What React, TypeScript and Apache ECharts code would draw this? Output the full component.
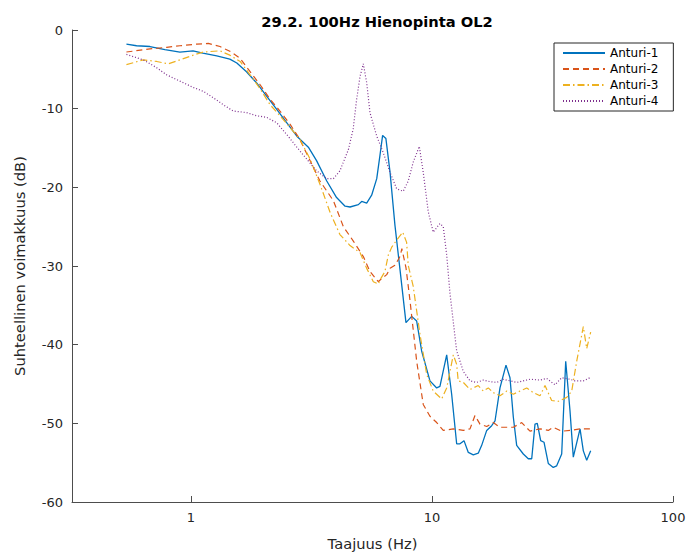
import React, { useEffect, useRef } from "react";
import * as echarts from "echarts";

const TITLE = "29.2. 100Hz Hienopinta OL2";
const X_NAME = "Taajuus (Hz)";
const Y_NAME = "Suhteellinen voimakkuus (dB)";
const SERIES_NAMES = ["Anturi-1", "Anturi-2", "Anturi-3", "Anturi-4"];
const X_TICKS = [1, 10, 100];
const X_MIN_HZ = 0.321;
const X_MAX_HZ = 100;
const Y_MIN = -60;
const Y_MAX = 0;
const Y_STEP = 10;

// [frequency (Hz), level (dB)]
const anturi1: [number, number][] = [
  [0.54, -1.8], [0.595, -2.0], [0.676, -2.1], [0.78, -2.5], [0.9, -2.8], [1.02, -2.65],
  [1.12, -2.95], [1.28, -3.3], [1.45, -3.7], [1.55, -4.2], [1.7, -5.3], [1.87, -6.7],
  [2.06, -8.4], [2.27, -10.1], [2.5, -11.8], [2.75, -13.5], [3.07, -14.9], [3.32, -16.6],
  [3.66, -19.2], [4.02, -21.3], [4.36, -22.4], [4.57, -22.5], [4.95, -22.2], [5.11, -21.8],
  [5.36, -22.0], [5.62, -21.0], [5.9, -18.9], [6.08, -16.0], [6.24, -13.4], [6.44, -13.8],
  [6.7, -18.1], [7.02, -24.8], [7.37, -30.5], [7.8, -37.2], [8.24, -36.4], [8.64, -37.0],
  [9.06, -40.8], [9.81, -44.6], [10.46, -45.5], [10.79, -45.3], [11.51, -41.3], [12.07, -46.3],
  [12.66, -52.6], [13.07, -52.6], [13.58, -52.2], [14.15, -53.7], [14.84, -54.0], [15.56, -53.8],
  [16.08, -52.8], [16.87, -50.9], [17.69, -50.3], [18.26, -49.7], [19.15, -45.5], [20.28, -42.6],
  [21.07, -44.2], [21.75, -49.2], [22.46, -52.8], [23.93, -53.9], [25.1, -54.5], [25.93, -54.5],
  [26.76, -50.1], [27.35, -50.0], [28.25, -52.2], [29.16, -52.4], [30.38, -55.1], [31.86, -55.6],
  [32.92, -55.4], [34.53, -53.9], [35.88, -42.1], [37.38, -48.4], [38.58, -54.3], [41.14, -50.7],
  [42.46, -53.5], [43.85, -54.7], [45.55, -53.5],
];

const anturi2: [number, number][] = [
  [0.54, -2.8], [0.676, -2.4], [0.793, -2.2], [0.9, -2.0], [1.056, -1.8], [1.18, -1.7],
  [1.32, -2.1], [1.45, -2.7], [1.6, -3.6], [1.76, -5.3], [1.93, -6.9], [2.13, -8.8],
  [2.34, -10.3], [2.58, -12.0], [2.83, -13.9], [3.12, -16.6], [3.43, -19.2], [3.9, -21.7],
  [4.29, -25.0], [4.71, -26.8], [5.19, -28.8], [5.53, -30.7], [5.99, -32.0], [6.08, -31.8],
  [6.49, -31.1], [6.7, -30.3], [7.02, -29.9], [7.37, -28.8], [7.5, -27.8], [7.8, -30.2],
  [8.1, -34.3], [8.64, -42.1], [9.2, -47.6], [9.81, -49.1], [10.46, -49.9], [11.14, -50.9],
  [12.26, -50.7], [13.49, -50.9], [14.38, -50.7], [15.08, -49.0], [15.82, -50.1], [16.87, -50.4],
  [17.96, -49.9], [19.15, -50.5], [20.42, -50.5], [21.75, -50.5], [23.56, -49.9], [25.51, -51.0],
  [28.06, -50.7], [30.38, -50.9], [31.86, -50.5], [34.53, -51.0], [37.38, -50.9], [41.14, -50.7],
  [45.24, -50.7],
];

const anturi3: [number, number][] = [
  [0.54, -4.4], [0.634, -3.8], [0.721, -4.0], [0.805, -4.3], [0.9, -3.8], [1.022, -3.2],
  [1.125, -2.8], [1.32, -2.65], [1.45, -3.2], [1.6, -4.0], [1.76, -5.7], [1.93, -7.4],
  [2.13, -9.5], [2.34, -10.9], [2.58, -12.4], [2.83, -13.9], [3.12, -16.4], [3.43, -19.6],
  [3.78, -23.2], [4.15, -26.0], [4.57, -27.4], [5.03, -28.3], [5.36, -30.3], [5.71, -32.0],
  [5.99, -32.3], [6.08, -31.8], [6.38, -30.7], [6.59, -28.6], [6.81, -27.6], [7.14, -26.7],
  [7.56, -25.7], [7.85, -27.0], [7.97, -29.9], [8.36, -32.6], [8.92, -38.7], [9.51, -43.8],
  [10.12, -45.9], [10.97, -46.9], [11.51, -45.5], [12.26, -41.3], [12.66, -42.5], [12.85, -44.6],
  [13.49, -44.8], [14.38, -45.7], [15.56, -45.2], [16.33, -45.9], [17.13, -45.5], [17.96, -46.1],
  [19.15, -46.5], [20.42, -45.9], [21.75, -46.3], [23.18, -45.9], [24.72, -45.5], [26.33, -46.1],
  [28.06, -46.5], [29.44, -45.2], [31.38, -47.1], [33.43, -47.2], [36.23, -46.7], [38.0, -45.9],
  [39.86, -42.1], [42.46, -37.7], [43.85, -40.5], [45.55, -38.4],
];

const anturi4: [number, number][] = [
  [0.54, -3.1], [0.634, -3.8], [0.721, -4.8], [0.793, -5.7], [0.9, -6.5], [1.022, -7.3],
  [1.125, -7.8], [1.237, -8.6], [1.361, -9.5], [1.498, -10.3], [1.7, -10.5], [1.87, -10.9],
  [2.06, -11.1], [2.27, -11.8], [2.5, -13.3], [2.75, -14.9], [3.02, -16.4], [3.32, -17.9],
  [3.66, -18.9], [3.9, -18.9], [4.15, -17.9], [4.5, -15.2], [4.71, -12.6], [4.87, -8.8],
  [5.03, -5.9], [5.19, -4.3], [5.36, -6.7], [5.53, -10.5], [5.9, -13.5], [6.28, -15.6],
  [6.7, -18.1], [7.14, -20.2], [7.6, -20.5], [7.97, -19.2], [8.36, -16.8], [8.86, -14.8],
  [9.2, -18.1], [9.65, -23.1], [10.12, -25.7], [10.79, -24.6], [11.14, -25.0], [11.51, -28.6],
  [11.88, -33.5], [12.66, -40.8], [13.49, -43.4], [14.38, -44.6], [15.33, -44.8], [16.33, -44.5],
  [17.41, -44.7], [18.56, -44.8], [19.76, -44.4], [21.07, -44.6], [22.46, -44.8], [23.93, -44.6],
  [25.51, -44.4], [28.06, -44.5], [29.92, -44.3], [32.39, -45.1], [34.53, -44.2], [37.38, -44.4],
  [39.21, -44.6], [42.46, -44.6], [45.24, -44.2],
];

const SERIES_DATA = [anturi1, anturi2, anturi3, anturi4];
const COLORS = ["#0072BD", "#D95319", "#EDB120", "#7E2F8E"];
const DASHES: any[] = ["solid", [6, 4], [7, 3, 1.5, 3], [1, 2]];
const WIDTHS = [1.3, 1.2, 1.2, 1.2];

const FONT = "DejaVu Sans, Noto Sans, sans-serif";
const AXIS_COLOR = "#4d4d4d";
const TEXT_COLOR = "#262626";

export default function App() {
  const ref = useRef<HTMLDivElement>(null);
  useEffect(() => {
    document.body.style.margin = "0";
    if (!ref.current) return;
    const chart = echarts.init(ref.current, null, { renderer: "svg" });
    const lg = (v: number) => Math.log10(v);
    const xTickVals = X_TICKS.map(lg);
    chart.setOption({
      animation: false,
      backgroundColor: "#ffffff",
      textStyle: { fontFamily: FONT },
      title: {
        text: TITLE,
        left: 372,
        textAlign: "center",
        top: 9,
        textStyle: { fontFamily: FONT, fontSize: 14.7, fontWeight: "bold", color: "#000" },
      },
      grid: { left: 72, right: 16, top: 30, bottom: 51 },
      legend: {
        orient: "vertical",
        left: 554,
        top: 43,
        data: SERIES_NAMES,
        borderColor: "#262626",
        borderWidth: 1,
        padding: [4, 15, 4, 8],
        itemWidth: 42,
        itemHeight: 12,
        itemGap: 4,
        backgroundColor: "#ffffff",
        itemStyle: { opacity: 0 },
        textStyle: { fontFamily: FONT, fontSize: 12, color: "#000" },
      },
      xAxis: {
        type: "value",
        min: lg(X_MIN_HZ),
        max: lg(X_MAX_HZ),
        name: X_NAME,
        nameLocation: "middle",
        nameGap: 34,
        nameTextStyle: { fontFamily: FONT, fontSize: 14.7, color: TEXT_COLOR },
        axisLine: { show: true, onZero: false, lineStyle: { color: AXIS_COLOR, width: 1 } },
        axisTick: { show: true, inside: true, length: 6, customValues: xTickVals, lineStyle: { color: AXIS_COLOR } },
        axisLabel: {
          customValues: xTickVals,
          margin: 9,
          fontFamily: FONT,
          fontSize: 13,
          color: TEXT_COLOR,
          formatter: (v: number) => String(Math.round(Math.pow(10, v))),
        },
        splitLine: { show: false },
      },
      yAxis: {
        type: "value",
        min: Y_MIN,
        max: Y_MAX,
        interval: Y_STEP,
        name: Y_NAME,
        nameLocation: "middle",
        nameGap: 45,
        nameTextStyle: { fontFamily: FONT, fontSize: 14.7, color: TEXT_COLOR },
        axisLine: { show: true, onZero: false, lineStyle: { color: AXIS_COLOR, width: 1 } },
        axisTick: { show: true, inside: true, length: 6, lineStyle: { color: AXIS_COLOR } },
        axisLabel: { margin: 9, fontFamily: FONT, fontSize: 13, color: TEXT_COLOR },
        splitLine: { show: false },
      },
      series: SERIES_DATA.map((d, i) => ({
        name: SERIES_NAMES[i],
        type: "line",
        symbol: "none",
        smooth: false,
        data: d.map(([f, v]) => [lg(f), v]),
        itemStyle: { color: COLORS[i] },
        lineStyle: { color: COLORS[i], width: WIDTHS[i], type: DASHES[i] },
      })),
    });
    return () => chart.dispose();
  }, []);
  return <div ref={ref} style={{ width: 689, height: 556 }} />;
}
